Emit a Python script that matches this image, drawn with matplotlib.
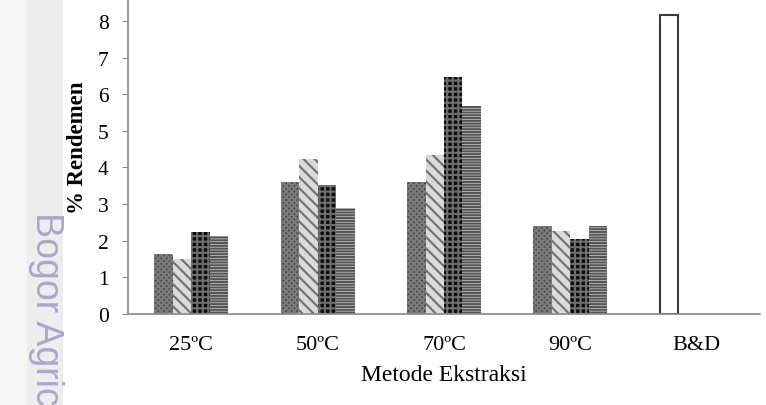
import numpy as np
import matplotlib
matplotlib.use('Agg')
import matplotlib.pyplot as plt

# data
categories = ['25ºC', '50ºC', '70ºC', '90ºC', 'B&D']
seri_1 = [1.64, 3.60, 3.60, 2.39]
seri_2 = [1.50, 4.23, 4.34, 2.26]
seri_3 = [2.23, 3.53, 6.47, 2.05]
seri_4 = [2.13, 2.90, 5.67, 2.40]
bd_value = 8.15
y_ticks = [0, 1, 2, 3, 4, 5, 6, 7, 8]

plt.rcParams['font.family'] = ['Liberation Serif', 'DejaVu Serif']
plt.rcParams['hatch.linewidth'] = 1.5

fig = plt.figure(figsize=(7.66, 4.06), dpi=100)

# watermark strip on the left edge
fig.patches.append(plt.Rectangle((0, 0), 27 / 766, 1, transform=fig.transFigure,
                                 facecolor='#f6f6f6', edgecolor='none', zorder=0))
fig.patches.append(plt.Rectangle((27 / 766, 0), 36 / 766, 1, transform=fig.transFigure,
                                 facecolor='#ededed', edgecolor='none', zorder=0))
fig.text(46 / 766, 1 - 212 / 406, 'Bogor Agric', rotation=-90,
         ha='center', va='top', fontsize=27, color='#a8a8ca', family='Liberation Sans')

ax = fig.add_axes([128 / 766, 91 / 406, 632 / 766, 315 / 406])
ax.patch.set_alpha(0)

x = np.arange(len(categories))
n = 4
w = 0.146
offsets = (np.arange(n) - (n - 1) / 2) * w

styles = [
    dict(facecolor='#4a4a4a', edgecolor='#7a7a7a', hatch='xxxxxx'),
    dict(facecolor='#dadada', edgecolor='#707070', hatch='\\\\\\'),
    dict(facecolor='#0c0c0c', edgecolor='#6e6e6e', hatch='+++'),
    dict(facecolor='#d0d0d0', edgecolor='#555555', hatch='------'),
]
series = [seri_1, seri_2, seri_3, seri_4]

for i in range(n):
    ax.bar(x[:4] + offsets[i], series[i], width=w, linewidth=0, zorder=2, **styles[i])

# B&D bar sits in the first slot
ax.bar(x[4] + offsets[0], bd_value, width=w, facecolor='white', edgecolor='#3a3a3a',
       linewidth=1.5, zorder=2)

ax.set_xlim(-0.5, 4.5)
ax.set_ylim(0, 8.6)
ax.set_xticks(x)
ax.set_xticklabels(categories, fontsize=16)
ax.set_yticks(y_ticks)
ax.set_yticklabels([str(t) for t in y_ticks], fontsize=15.5)
ax.tick_params(axis='x', length=0, pad=15)
ax.tick_params(axis='y', length=4, color='#888888', pad=10)

for s in ['top', 'right']:
    ax.spines[s].set_visible(False)
for s in ['left', 'bottom']:
    ax.spines[s].set_color('#888888')
    ax.spines[s].set_linewidth(1.2)

ax.set_xlabel('Metode Ekstraksi', fontsize=17, labelpad=7)
ax.set_ylabel('% Rendemen', fontsize=16.5, fontweight='bold')
ax.yaxis.set_label_coords(-0.063, 0.53)

fig.savefig('out.png', dpi=100)
